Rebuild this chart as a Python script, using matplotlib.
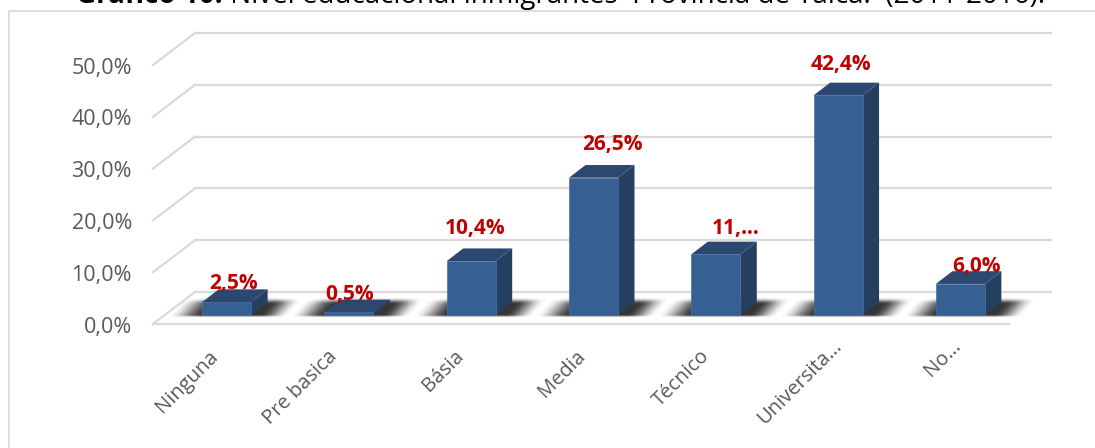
import numpy as np
import matplotlib
matplotlib.use('Agg')
from matplotlib import pyplot as plt
from matplotlib.lines import Line2D

categorias = ['Ninguna', 'Pre basica', 'Básia', 'Media', 'Técnico', 'Universita…', 'No…']
valores = [2.5, 0.5, 10.4, 26.5, 11.7, 42.4, 6.0]
etiquetas = ['2,5%', '0,5%', '10,4%', '26,5%', '11,…', '42,4%', '6,0%']
ticks_y = [0, 10, 20, 30, 40, 50]
ticks_txt = ['0,0%', '10,0%', '20,0%', '30,0%', '40,0%', '50,0%']

titulo_neg = 'Gráfico 10:'
titulo = ' Nivel educacional inmigrantes  Provincia de Talca.  (2011-2016).'

plt.rcParams['font.family'] = ['Open Sans', 'DejaVu Sans']

W, H = 1095, 448
fig = plt.figure(figsize=(W / 100, H / 100), dpi=100)
ax = fig.add_axes([153 / W, (H - 324) / H, 856 / W, 259 / H])

px = 1 / 122.3   # un pixel en unidades de x
py = 1 / 5.18    # un pixel en unidades de y
ancho = 49 * px
mov_x, mov_y = 12.5 * px, 9 * py     # base de las barras dentro del piso
prof_x, prof_y = 16.5 * px, 12.7 * py
pared_x, pared_y = 42 * px, 32 * py

gris = '#D9D9D9'
# lineas de la pared y del piso
for t in ticks_y:
    ax.plot([-0.5, -0.5 + pared_x], [t, t + pared_y], color=gris, lw=1.6, clip_on=False, zorder=1)
    ax.plot([-0.5 + pared_x, 6.5 + pared_x], [t + pared_y, t + pared_y], color=gris, lw=1.6,
            clip_on=False, zorder=1)
ax.plot([-0.5, 6.5], [0, 0], color=gris, lw=1.6, clip_on=False, zorder=1)

# offsets en pixeles
lab_dx = [7, 1, 3.5, 19, 20, 3, 16]
lab_dy = [19, 18, 33, 33, 26, 31, 17]
cat_dx = [1, -2, 2, 1, 3, 13, 10]
cat_dy = [-30, -30, -29, -29, -29, -19, -19]


def suave(t):
    t = np.clip(t, 0, 1)
    return t * t * (3 - 2 * t)


# sombra difusa, en pixeles respecto a la esquina de la barra
sx = np.arange(-45, 115)
sy = np.arange(-4, 24)
gx, gy = np.meshgrid(sx, sy)
u = gx - 0.9 * gy
alfa = suave((u + 34) / 36) * (1 - suave((u - 58) / 30)) * (1 - suave((gy - 11) / 7)) * suave((gy + 3) / 3)
img = np.zeros(alfa.shape + (4,))
img[..., :3] = 0.12
img[..., 3] = alfa * 0.9

for i, v in enumerate(valores):
    x0 = i - ancho / 2 + mov_x
    x1 = x0 + ancho
    y0 = mov_y
    y1 = y0 + v

    ax.imshow(img, origin='lower', aspect='auto', interpolation='bilinear', zorder=2, clip_on=False,
              extent=[x0 + sx[0] * px, x0 + sx[-1] * px, y0 + sy[0] * py, y0 + sy[-1] * py])

    ax.bar(x0 + ancho / 2, v, width=ancho, bottom=y0, color='#376092', edgecolor='#4A72A3',
           lw=0.5, zorder=4, clip_on=False)
    ax.fill([x1, x1 + prof_x, x1 + prof_x, x1], [y0, y0 + prof_y, y1 + prof_y, y1],
            color='#243F60', lw=0, zorder=3, clip_on=False)
    ax.fill([x0, x1, x1 + prof_x, x0 + prof_x], [y1, y1, y1 + prof_y, y1 + prof_y],
            color='#2C4870', lw=0, zorder=3, clip_on=False)

    ax.text(i + mov_x + lab_dx[i] * px, y1 + lab_dy[i] * py, etiquetas[i], color='#C00000',
            fontsize=15, fontweight='bold', ha='center', va='center', zorder=6, clip_on=False)

    # etiqueta de categoria
    ax.annotate(categorias[i], xy=(i, 0), xycoords='data', xytext=(cat_dx[i], cat_dy[i]),
                textcoords='offset pixels', rotation=45, rotation_mode='anchor', ha='right',
                va='center', fontsize=14.5, color='#595959', annotation_clip=False)

ax.set_xlim(-0.5, 6.5)
ax.set_ylim(0, 50)
ax.axis('off')

for t, s in zip(ticks_y, ticks_txt):
    ax.text(-0.5 - 21 * px, t - 3 * py, s, fontsize=15.5, color='#595959', ha='right', va='center',
            clip_on=False)

# marco del grafico, solo arriba y a la izquierda
fig.add_artist(Line2D([9 / W, 9 / W, 1], [0, (H - 11) / H, (H - 11) / H], color=gris, lw=1.2))

# titulo cortado por el borde superior, primera parte en negrita
t1 = fig.text(76 / W, (H - 3) / H, titulo_neg, fontsize=20, fontweight='bold', color='black',
              ha='left', va='baseline')
caja = t1.get_window_extent(fig.canvas.get_renderer())
fig.text(caja.x1 / W, (H - 3) / H, titulo, fontsize=20, color='black', ha='left', va='baseline')

fig.savefig('out.png', dpi=100)
